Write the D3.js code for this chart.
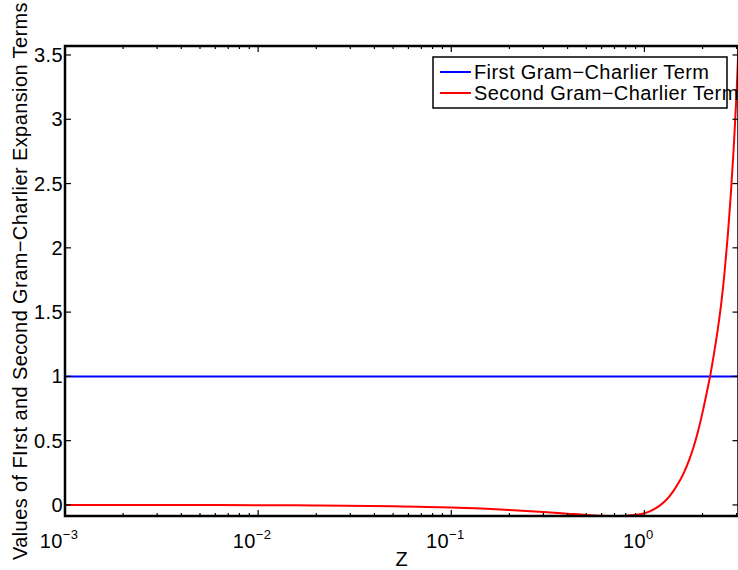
<!DOCTYPE html>
<html>
<head>
<meta charset="utf-8">
<script src="https://cdn.jsdelivr.net/npm/d3@7/dist/d3.min.js"></script>
<style>
  body { margin: 0; background: #fff; }
  svg { display: block; font-family: "Liberation Sans", Arial, sans-serif; }
  text { letter-spacing: 0.4px; }
</style>
</head>
<body>
<script>
var seriesNames = ['First Gram\u2212Charlier Term', 'Second Gram\u2212Charlier Term']
var seriesColors = ['#0000ff', '#ff0000']

var firstTermZ = [0.001, 3.07]
var firstTermValues = [1, 1]

var secondTermZ = [0.001, 0.002, 0.005, 0.01, 0.02, 0.05, 0.1, 0.2, 0.3, 0.4, 0.5, 0.6, 0.7, 0.8, 0.9,
  1.0, 1.1, 1.2, 1.3, 1.4, 1.5, 1.6, 1.7, 1.8, 1.9, 2.0, 2.1, 2.2, 2.3, 2.4, 2.5, 2.6, 2.7, 2.8, 2.9, 3.0, 3.07]
var secondTermValues = [0.000, 0.000, -0.001, -0.002, -0.004, -0.010, -0.020, -0.039, -0.055, -0.068, -0.078, -0.084, -0.086, -0.084, -0.077,
  -0.065, -0.040, -0.005, 0.04, 0.10, 0.17, 0.25, 0.345, 0.455, 0.58, 0.72, 0.87, 1.02, 1.19, 1.37, 1.57, 1.81, 2.09, 2.41, 2.78, 3.20, 3.57]

var xTickValues = [0.001, 0.01, 0.1, 1]
var xTickExponents = ['\u22123', '\u22122', '\u22121', '0']
var yTickValues = [0, 0.5, 1, 1.5, 2, 2.5, 3, 3.5]
var yTickLabels = ['0', '0.5', '1', '1.5', '2', '2.5', '3', '3.5']

var xLabel = 'Z'
var yLabel = 'Values of FIrst and Second Gram\u2212Charlier Expansion Terms'

var W = 738, H = 570
var plotL = 65, plotR = 738.5, plotT = 46, plotB = 516
var fs = 20

var x = d3.scaleLog().domain([0.001, 3.07]).range([plotL, plotR])
var y = d3.scaleLinear().domain([-0.086, 3.57]).range([plotB, plotT])

var svg = d3.select('body').append('svg')
  .attr('width', W)
  .attr('height', H)

// minor ticks for the log axis
var minorTicks = []
for (var d = -3; d <= 0; d++) {
  for (var m = 2; m <= 9; m++) {
    var v = m * Math.pow(10, d)
    if (v <= 3.07) minorTicks.push(v)
  }
}

var series = [
  { z: firstTermZ, v: firstTermValues },
  { z: secondTermZ, v: secondTermValues }
]

var line = d3.line()
  .x(function(d) { return x(d[0]) })
  .y(function(d) { return y(d[1]) })
  .curve(d3.curveMonotoneX)

svg.append('clipPath').attr('id', 'plotclip')
  .append('rect')
  .attr('x', plotL).attr('y', plotT - 2)
  .attr('width', plotR - plotL).attr('height', plotB - plotT + 4)

series.forEach(function(s, i) {
  svg.append('path')
    .datum(d3.zip(s.z, s.v))
    .attr('d', line)
    .attr('fill', 'none')
    .attr('stroke', seriesColors[i])
    .attr('stroke-width', 2)
    .attr('clip-path', 'url(#plotclip)')
})

// ticks (inward, on all four sides)
var tickG = svg.append('g').attr('stroke', '#000').attr('stroke-width', 1.2)
xTickValues.forEach(function(v) {
  tickG.append('line').attr('x1', x(v)).attr('x2', x(v)).attr('y1', plotB).attr('y2', plotB - 6)
  tickG.append('line').attr('x1', x(v)).attr('x2', x(v)).attr('y1', plotT).attr('y2', plotT + 6)
})
minorTicks.forEach(function(v) {
  tickG.append('line').attr('x1', x(v)).attr('x2', x(v)).attr('y1', plotB).attr('y2', plotB - 3)
  tickG.append('line').attr('x1', x(v)).attr('x2', x(v)).attr('y1', plotT).attr('y2', plotT + 3)
})
yTickValues.forEach(function(v) {
  tickG.append('line').attr('x1', plotL).attr('x2', plotL + 6).attr('y1', y(v)).attr('y2', y(v))
  tickG.append('line').attr('x1', plotR).attr('x2', plotR - 6).attr('y1', y(v)).attr('y2', y(v))
})

// axes box
svg.append('rect')
  .attr('x', plotL).attr('y', plotT)
  .attr('width', plotR - plotL).attr('height', plotB - plotT)
  .attr('fill', 'none')
  .attr('stroke', '#000')
  .attr('stroke-width', 2.5)

// y tick labels
svg.append('g').selectAll('text')
  .data(yTickValues)
  .join('text')
  .attr('x', plotL - 2)
  .attr('y', function(d) { return y(d) })
  .attr('dy', '0.35em')
  .attr('text-anchor', 'end')
  .attr('font-size', fs)
  .text(function(d, i) { return yTickLabels[i] })

// x tick labels: 10^n
var xl = svg.append('g').selectAll('text')
  .data(xTickValues)
  .join('text')
  .attr('x', function(d) { return x(d) - 6 })
  .attr('y', 548)
  .attr('text-anchor', 'middle')
  .attr('font-size', fs)
xl.append('tspan').text('10')
xl.append('tspan')
  .attr('dy', -9)
  .attr('font-size', 13)
  .text(function(d, i) { return xTickExponents[i] })

svg.append('text')
  .attr('x', (plotL + plotR) / 2)
  .attr('y', 566)
  .attr('text-anchor', 'middle')
  .attr('font-size', fs)
  .text(xLabel)

svg.append('text')
  .attr('transform', 'translate(27,' + ((plotT + plotB) / 2) + ') rotate(-90)')
  .attr('text-anchor', 'middle')
  .attr('font-size', fs)
  .text(yLabel)

// legend
var lg = svg.append('g')
lg.append('rect')
  .attr('x', 433).attr('y', 57)
  .attr('width', 294).attr('height', 51)
  .attr('fill', '#fff')
  .attr('stroke', '#000')
  .attr('stroke-width', 1.5)
seriesNames.forEach(function(name, i) {
  var ly = 72 + i * 21
  lg.append('line')
    .attr('x1', 440).attr('x2', 471)
    .attr('y1', ly).attr('y2', ly)
    .attr('stroke', seriesColors[i])
    .attr('stroke-width', 2)
  lg.append('text')
    .attr('x', 474).attr('y', ly)
    .attr('dy', '0.35em')
    .attr('font-size', fs)
    .text(name)
})
</script>
</body>
</html>
